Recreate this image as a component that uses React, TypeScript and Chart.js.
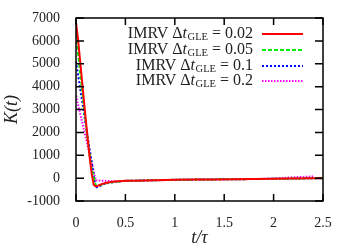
import React, { useEffect, useRef } from "react";
import { Chart, registerables } from "chart.js";

Chart.register(...registerables);

const xTicks = [0, 0.5, 1, 1.5, 2, 2.5];
const yTicks = [-1000, 0, 1000, 2000, 3000, 4000, 5000, 6000, 7000];

const tRed = [0, 0.02, 0.04, 0.06, 0.08, 0.1, 0.12, 0.14, 0.16, 0.18, 0.2, 0.22, 0.24, 0.26, 0.3, 0.35, 0.4, 0.5, 0.6, 0.8, 1.0, 1.2, 1.4, 1.6, 1.8, 2.0, 2.2, 2.4, 2.5];
const kRed = [6800, 6100, 5200, 4300, 3400, 2500, 1650, 850, 150, -300, -360, -340, -300, -260, -210, -170, -150, -120, -110, -90, -75, -65, -55, -50, -40, -30, -20, -5, 0];

const tGreen = [0, 0.05, 0.1, 0.15, 0.2, 0.25, 0.3, 0.4, 0.5, 0.6, 0.8, 1.0, 1.2, 1.4, 1.6, 1.8, 2.0, 2.2, 2.4, 2.5];
const kGreen = [6300, 4300, 2300, 600, -330, -300, -230, -160, -120, -110, -90, -75, -65, -55, -50, -40, -30, -20, -5, 0];

const tBlue = [0, 0.1, 0.2, 0.3, 0.4, 0.5, 0.6, 0.8, 1.0, 1.2, 1.4, 1.6, 1.8, 2.0, 2.2, 2.4, 2.5];
const kBlue = [5100, 2300, -420, -230, -160, -120, -110, -90, -75, -65, -55, -50, -40, -30, -20, -5, 0];

const tMagenta = [0, 0.2, 0.4, 0.6, 0.8, 1.0, 1.2, 1.4, 1.6, 1.8, 2.0, 2.2, 2.4];
const kMagenta = [3600, -100, -140, -115, -95, -80, -65, -55, -50, -40, -20, 40, 70];

const seriesLabels = ["0.02", "0.05", "0.1", "0.2"];
const seriesColors = ["#ff0000", "#00ee00", "#0000ff", "#ff00ff"];
const seriesDash = [[], [4, 2], [2, 2], [1.5, 1.5]];

const FONT = "'Liberation Serif', 'DejaVu Serif', serif";

const toPts = (t: number[], k: number[]) => t.map((x, i) => ({ x, y: k[i] }));

const framePlugin = {
  id: "frame",
  afterDraw(chart: any) {
    const { ctx, chartArea: a, scales } = chart;
    ctx.save();
    ctx.strokeStyle = "#000";
    ctx.lineWidth = 1.5;
    ctx.setLineDash([]);
    ctx.strokeRect(a.left, a.top, a.right - a.left, a.bottom - a.top);
    ctx.beginPath();
    xTicks.forEach((v) => {
      const px = scales.x.getPixelForValue(v);
      ctx.moveTo(px, a.bottom);
      ctx.lineTo(px, a.bottom - 7);
      ctx.moveTo(px, a.top);
      ctx.lineTo(px, a.top + 7);
    });
    yTicks.forEach((v) => {
      const py = scales.y.getPixelForValue(v);
      ctx.moveTo(a.left, py);
      ctx.lineTo(a.left + 8, py);
      ctx.moveTo(a.right, py);
      ctx.lineTo(a.right - 8, py);
    });
    ctx.stroke();

    // legend
    const rightX = 253;
    const rows = [34, 50, 66, 81];
    seriesLabels.forEach((lab, i) => {
      const y = rows[i];
      ctx.fillStyle = "#222";
      ctx.textBaseline = "middle";
      ctx.textAlign = "left";
      const mainFont = `16px ${FONT}`;
      const italFont = `italic 16px ${FONT}`;
      const subFont = `10.5px ${FONT}`;
      const p1 = "IMRV Δ";
      const p2 = "t";
      const p3 = "GLE";
      const p4 = " = " + lab;
      ctx.font = mainFont;
      const w1 = ctx.measureText(p1).width;
      const w4 = ctx.measureText(p4).width;
      ctx.font = italFont;
      const w2 = ctx.measureText(p2).width;
      ctx.font = subFont;
      const w3 = ctx.measureText(p3).width;
      let x = rightX - (w1 + w2 + w3 + w4 + 0.5);
      ctx.font = mainFont;
      ctx.fillText(p1, x, y);
      x += w1;
      ctx.font = italFont;
      ctx.fillText(p2, x, y);
      x += w2 + 0.5;
      ctx.font = subFont;
      ctx.fillText(p3, x, y + 3.5);
      x += w3;
      ctx.font = mainFont;
      ctx.fillText(p4, x, y);

      ctx.beginPath();
      ctx.strokeStyle = seriesColors[i];
      ctx.lineWidth = 2;
      ctx.setLineDash(seriesDash[i]);
      ctx.moveTo(262, y);
      ctx.lineTo(303, y);
      ctx.stroke();
    });
    ctx.restore();
  },
};

export default function App() {
  const ref = useRef<HTMLCanvasElement | null>(null);
  useEffect(() => {
    document.body.style.margin = "0";
    const data = [toPts(tRed, kRed), toPts(tGreen, kGreen), toPts(tBlue, kBlue), toPts(tMagenta, kMagenta)];
    const chart = new Chart(ref.current as HTMLCanvasElement, {
      type: "line",
      data: {
        datasets: data.map((d, i) => ({
          label: seriesLabels[i],
          data: d,
          borderColor: seriesColors[i],
          borderWidth: 2,
          borderDash: seriesDash[i],
          pointRadius: 0,
          fill: false,
          tension: 0,
        })),
      },
      options: {
        animation: false,
        responsive: false,
        maintainAspectRatio: false,
        layout: { padding: { left: 0, right: 27, top: 18, bottom: 0 } },
        plugins: { legend: { display: false }, tooltip: { enabled: false } },
        scales: {
          x: {
            type: "linear",
            min: 0,
            max: 2.5,
            afterFit: (s: any) => {
              s.height = 49;
            },
            afterBuildTicks: (s: any) => {
              s.ticks = xTicks.map((v) => ({ value: v }));
            },
            grid: { display: false },
            border: { display: false },
            ticks: {
              color: "#222",
              font: { family: FONT, size: 14 },
              padding: 6,
              maxRotation: 0,
              callback: (v: any) => String(v),
            },
            title: {
              display: true,
              text: "t/τ",
              color: "#222",
              font: { family: FONT, size: 18, style: "italic" },
              padding: { top: 0, bottom: 1 },
            },
          },
          y: {
            type: "linear",
            min: -1000,
            max: 7000,
            afterFit: (s: any) => {
              s.width = 76;
            },
            afterBuildTicks: (s: any) => {
              s.ticks = yTicks.map((v) => ({ value: v }));
            },
            grid: { display: false },
            border: { display: false },
            ticks: {
              color: "#222",
              font: { family: FONT, size: 14 },
              padding: 8,
              callback: (v: any) => String(v),
            },
            title: {
              display: true,
              text: "K(t)",
              color: "#222",
              font: { family: FONT, size: 18, style: "italic" },
              padding: { top: 1, bottom: 0 },
            },
          },
        },
      },
      plugins: [framePlugin],
    } as any);
    return () => chart.destroy();
  }, []);
  return <canvas ref={ref} width={350} height={250} style={{ display: "block" }} />;
}
